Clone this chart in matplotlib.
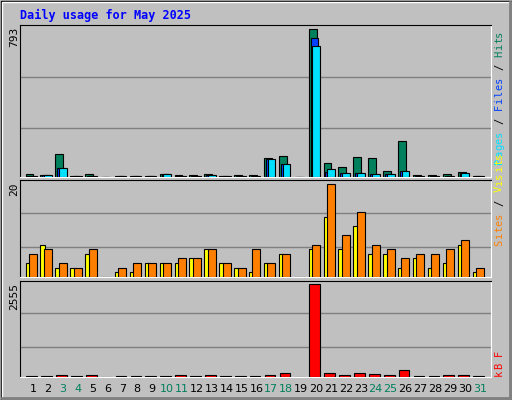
import matplotlib
matplotlib.use("Agg")
from matplotlib import pyplot as plt
from matplotlib.patches import Rectangle

days = list(range(1, 32))
hits = [16, 10, 124, 5, 16, 0, 5, 5, 5, 16, 10, 10, 16, 5, 10, 10, 104, 113, 0,
        793, 75, 54, 108, 102, 32, 194, 10, 10, 16, 27, 5]
files = [5, 10, 48, 3, 3, 0, 3, 3, 3, 16, 5, 3, 10, 3, 3, 3, 97, 70, 0,
         743, 29, 20, 20, 14, 14, 30, 3, 3, 3, 22, 3]
pages = [5, 10, 48, 3, 3, 0, 3, 3, 3, 16, 5, 3, 10, 3, 3, 3, 97, 70, 0,
         700, 43, 22, 22, 16, 16, 32, 3, 3, 3, 22, 3]
visits = [3, 7, 2, 2, 5, 0, 1, 1, 3, 3, 3, 4, 6, 3, 2, 1, 3, 5, 0,
          6, 13, 6, 11, 5, 5, 2, 4, 2, 3, 7, 1]
sites = [5, 6, 3, 2, 6, 0, 2, 3, 3, 3, 4, 4, 6, 3, 2, 6, 3, 5, 0,
         7, 20, 9, 14, 7, 6, 4, 5, 5, 6, 8, 2]
kbytes = [20, 20, 60, 20, 60, 0, 20, 20, 20, 20, 60, 20, 60, 20, 20, 20, 60, 100, 0,
          2555, 120, 60, 120, 90, 60, 180, 20, 20, 60, 60, 20]
weekend = [3, 4, 10, 11, 17, 18, 24, 25, 31]

W, H = 512, 400
bg = "#c0c0c0"
mono = "DejaVu Sans Mono"
fig = plt.figure(figsize=(W / 100, H / 100), dpi=100)
fig.patch.set_facecolor(bg)

# bevelled frame
fa = fig.add_axes([0, 0, 1, 1])
fa.set_xlim(0, W); fa.set_ylim(H, 0); fa.axis("off")
fa.add_patch(Rectangle((0.5, 0.5), W - 1, H - 1, fill=False, ec="black", lw=1))
fa.plot([1.5, 1.5, W - 2], [H - 2, 1.5, 1.5], color="white", lw=1)
fa.plot([2, W - 2.5, W - 2.5], [H - 2.5, H - 2.5, 2], color="#808080", lw=2)
fa.text(20, 15, "Daily usage for May 2025", color="#0000ff", fontsize=8.5,
        fontweight="bold", family=mono, va="center")


def panel(top, bottom, ymax, grid):
    ax = fig.add_axes([20 / W, 1 - bottom / H, 471 / W, (bottom - top) / H])
    ax.set_facecolor(bg)
    ax.set_xlim(0.13, 31.74)
    ax.set_ylim(0, ymax)
    ax.set_xticks([]); ax.set_yticks([])
    for g in grid:
        ax.axhline(g, color="#808080", lw=1, zorder=0)
    for s in ("left", "top"):
        ax.spines[s].set_color("black")
    for s in ("right", "bottom"):
        ax.spines[s].set_color("white")
    return ax


def bars(ax, offset, vals, color, width):
    ax.bar([d + offset for d in days], vals, width=width, align="edge",
           color=color, edgecolor="black", linewidth=0.8, zorder=3)


ax1 = panel(25, 177, 815, [264, 538])
bars(ax1, -0.5, hits, "#00805c", 0.53)
bars(ax1, -0.37, files, "#0040ff", 0.5)
bars(ax1, -0.25, pages, "#00e0ff", 0.52)

ax2 = panel(180, 277, 20.9, [6.5, 13.7])
bars(ax2, -0.5, visits, "#ffff00", 0.3)
bars(ax2, -0.27, sites, "#ff8000", 0.54)

ax3 = panel(281, 377, 2648, [820, 1753])
bars(ax3, -0.45, kbytes, "#ff0000", 0.72)

# side labels
fa.text(14, 27, "793", rotation=90, ha="center", va="top", fontsize=8, family=mono)
fa.text(14, 182, "20", rotation=90, ha="center", va="top", fontsize=8, family=mono)
fa.text(14, 283, "2555", rotation=90, ha="center", va="top", fontsize=8, family=mono)


def side(y, parts):
    # one character at a time, bottom to top
    for txt, col in parts:
        for ch in txt:
            if ch != " ":
                fa.text(499, y - 3.3, ch, rotation=90, ha="center", va="center",
                        fontsize=7.5, family=mono, color=col)
            y -= 6.7


side(164, [("Pages", "#00e0ff"), (" / ", "black"), ("Files", "#0040ff"),
           (" / ", "black"), ("Hits", "#00805c")])
side(246, [("Sites", "#ff8000"), (" / ", "black"), ("Visits", "#ffff00")])
side(376, [("kB F", "#ff0000")])

for d in days:
    x = 20 + (d - 0.13) * 471 / 31.61
    fa.text(x, 389, str(d), ha="center", va="center", fontsize=8,
            color="#00805c" if d in weekend else "black")

fig.savefig("out.png", dpi=100, facecolor=bg)
